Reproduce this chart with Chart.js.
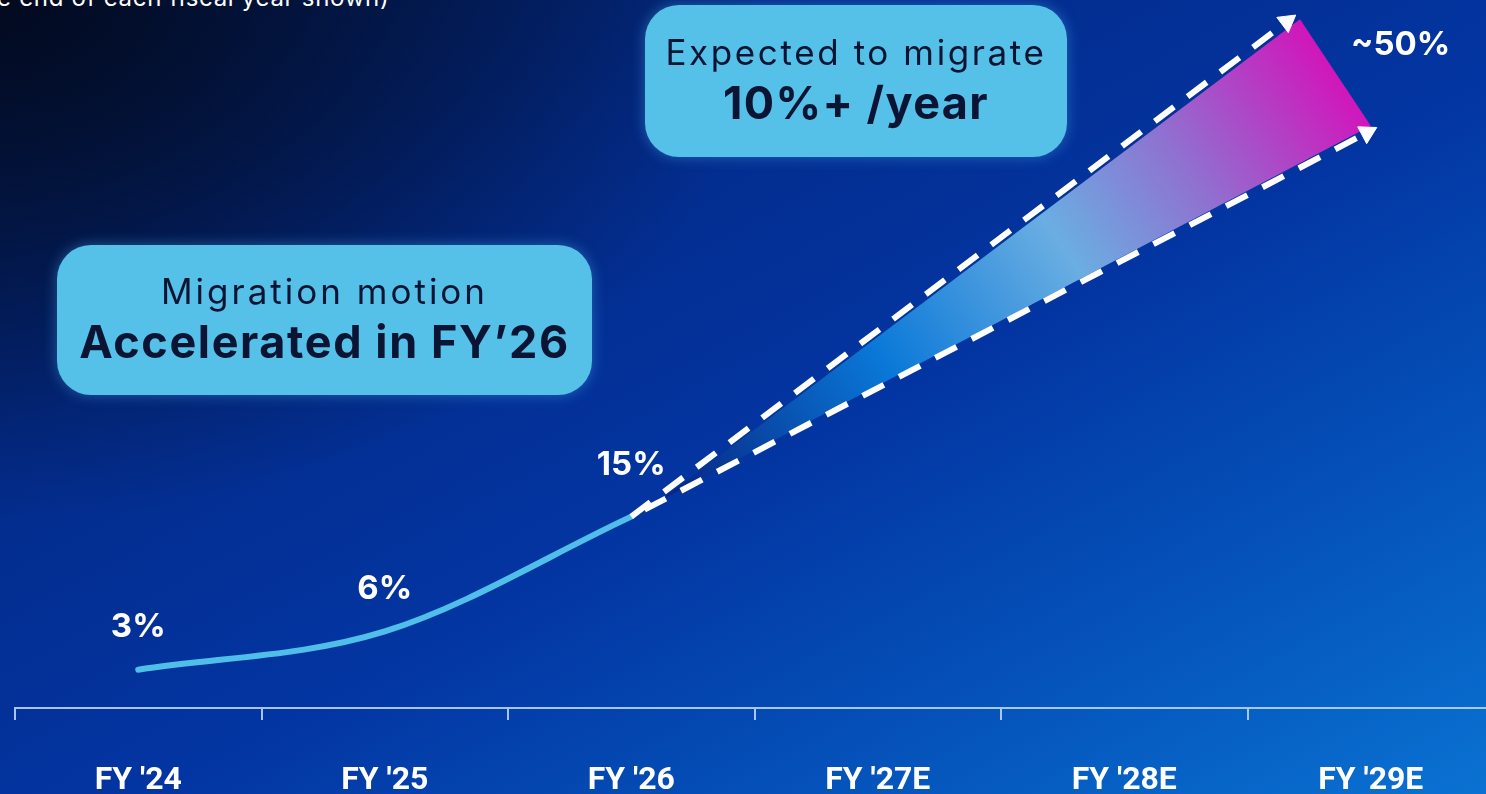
<!DOCTYPE html>
<html>
<head>
<meta charset="utf-8">
<script src="https://cdn.jsdelivr.net/npm/chart.js@4.4.1/dist/chart.umd.min.js"></script>
<style>
  html, body { margin: 0; padding: 0; width: 1486px; height: 794px; overflow: hidden; }
  body {
    position: relative;
    background:
      radial-gradient(ellipse 760px 520px at 0 0, rgba(2, 9, 28, 0.95) 0%, rgba(2, 10, 32, 0.55) 45%, rgba(2, 12, 40, 0) 100%),
      linear-gradient(to bottom right, #031c55 0%, #032b8a 28%, #0335a2 55%, #0556bd 80%, #0a72d2 100%);
    font-family: "Inter", "Open Sans", sans-serif;
  }
  #wrap { position: absolute; left: 0; top: 0; width: 1500px; height: 794px; }
  .note {
    position: absolute; left: -3px; top: -14px;
    color: #ffffff; font-size: 24px; line-height: 24px; letter-spacing: 0.7px; white-space: nowrap;
  }
  .box {
    position: absolute;
    background: #55c0e8;
    border-radius: 34px;
    box-shadow: 0 0 14px rgba(70, 170, 235, 0.45);
    color: #0b1533;
    text-align: center;
    white-space: nowrap;
  }
  .box div { position: absolute; left: 0; right: 0; }
  #boxA { left: 57px; top: 245px; width: 535px; height: 150px; }
  #boxB { left: 645px; top: 5px; width: 422px; height: 152px; }
</style>
</head>
<body>
<div class="note">e end of each fiscal year shown)</div>
<div id="wrap"><canvas id="chart"></canvas></div>

<div class="box" id="boxA">
  <div style="top:24px;font-size:35px;line-height:44px;font-weight:400;letter-spacing:3px;">Migration motion</div>
  <div style="top:71px;font-size:45px;line-height:52px;font-weight:700;letter-spacing:1.6px;">Accelerated in FY’26</div>
</div>
<div class="box" id="boxB">
  <div style="top:25px;font-size:35px;line-height:44px;font-weight:400;letter-spacing:2.6px;">Expected to migrate</div>
  <div style="top:71px;font-size:45px;line-height:54px;font-weight:700;letter-spacing:1.4px;">10%+ /year</div>
</div>

<script>
// Fiscal years on the axis
const categories = ["FY '24", "FY '25", "FY '26", "FY '27E", "FY '28E", "FY '29E"];

// Reported share migrated (category index, percent)
const actualIndex = [0, 1, 2];
const actualShare = [3, 6, 15];

// Projection: both arrows leave the FY '26 value
const projectionFromIndex = 2;
const projectionFromShare = 15;
const upperArrowIndex = 4.66;
const upperArrowShare = 53.8;
const lowerArrowIndex = 4.985;
const lowerArrowShare = 45.1;

// Shaded projection range (a closed triangle)
const rangeIndex = [2.12, 4.713, 5.0];
const rangeShare = [16.3, 54.0, 45.65];

// Target at the end of the range
const targetIndex = 5;
const targetShare = 50;
const targetLabel = '~50%';

const actualPoints = actualIndex.map((x, i) => ({ x, y: actualShare[i] }));
const rangePoints = rangeIndex.map((x, i) => ({ x, y: rangeShare[i] }));
rangePoints.push({ x: rangeIndex[0], y: rangeShare[0] });
const upperPoints = [
  { x: projectionFromIndex, y: projectionFromShare },
  { x: upperArrowIndex, y: upperArrowShare }
];
const lowerPoints = [
  { x: projectionFromIndex, y: projectionFromShare },
  { x: lowerArrowIndex, y: lowerArrowShare }
];

function rangeGradient(context) {
  const chart = context.chart;
  if (!chart.chartArea) return 'rgba(0,0,0,0)';
  const xs = chart.scales.x, ys = chart.scales.y;
  const g = chart.ctx.createLinearGradient(
    xs.getPixelForValue(2.12), ys.getPixelForValue(16.3),
    xs.getPixelForValue(4.835), ys.getPixelForValue(53.2)
  );
  g.addColorStop(0, '#07217e');
  g.addColorStop(0.32, '#0a78d8');
  g.addColorStop(0.58, '#6aaee2');
  g.addColorStop(0.76, '#9070d0');
  g.addColorStop(1, '#d80cb8');
  return g;
}

const valueLabels = {
  id: 'valueLabels',
  afterDatasetsDraw(chart) {
    const c = chart.ctx;
    const meta = chart.getDatasetMeta(3);
    const lift = [43, 42, 52];
    c.save();
    c.fillStyle = '#ffffff';
    c.font = '700 33px Inter, "Open Sans", sans-serif';
    c.textAlign = 'center';
    c.textBaseline = 'middle';
    meta.data.forEach((pt, i) => {
      c.fillText(actualShare[i] + '%', pt.x, pt.y - lift[i]);
    });
    const tx = chart.scales.x.getPixelForValue(targetIndex);
    const ty = chart.scales.y.getPixelForValue(targetShare);
    c.fillText(targetLabel, tx + 30, ty - 25);
    c.restore();
  }
};

const dashStyle = {
  borderColor: '#ffffff',
  borderWidth: 6,
  borderDash: [24, 17],
  borderCapStyle: 'butt',
  pointStyle: 'triangle',
  pointRadius: [0, 11],
  pointHoverRadius: [0, 11],
  pointBackgroundColor: '#ffffff',
  pointBorderColor: '#ffffff',
  pointBorderWidth: 1,
  fill: false,
  tension: 0,
  clip: false
};

new Chart(document.getElementById('chart'), {
  type: 'line',
  data: {
    labels: categories,
    datasets: [
      Object.assign({}, dashStyle, {
        label: 'High',
        data: upperPoints,
        pointRotation: [0, 53],
        order: 1
      }),
      Object.assign({}, dashStyle, {
        label: 'Low',
        data: lowerPoints,
        pointRotation: [0, 62],
        borderDashOffset: 26,
        order: 2
      }),
      {
        label: 'Range',
        data: rangePoints,
        borderWidth: 0,
        borderColor: 'rgba(0,0,0,0)',
        backgroundColor: rangeGradient,
        fill: 'shape',
        pointRadius: 0,
        tension: 0,
        order: 5,
        clip: false
      },
      {
        label: 'Migrated',
        data: actualPoints,
        borderColor: '#4fbfe9',
        borderWidth: 6,
        borderCapStyle: 'round',
        cubicInterpolationMode: 'monotone',
        pointRadius: 0,
        fill: false,
        order: 3,
        clip: false
      }
    ]
  },
  options: {
    responsive: true,
    maintainAspectRatio: false,
    animation: false,
    events: [],
    layout: { autoPadding: false, padding: { left: 15, right: 6, top: 0, bottom: 0 } },
    plugins: { legend: { display: false }, tooltip: { enabled: false } },
    scales: {
      x: { type: 'linear', display: false, min: -0.5, max: 5.5 },
      xc: {
        type: 'category',
        position: 'bottom',
        labels: categories,
        offset: true,
        afterFit(scale) { scale.height = 86; },
        border: { display: true, color: 'rgba(185, 212, 250, 0.9)', width: 2 },
        grid: {
          display: true,
          offset: true,
          drawOnChartArea: false,
          drawTicks: true,
          tickLength: 12,
          color: 'rgba(185, 212, 250, 0.9)',
          lineWidth: 2
        },
        ticks: {
          color: '#ffffff',
          padding: 42,
          maxRotation: 0,
          autoSkip: false,
          font: { family: 'Roboto', weight: 'bold', size: 32 }
        }
      },
      y: { type: 'linear', display: false, min: 0, max: 55.5 }
    }
  },
  plugins: [valueLabels]
});
</script>
</body>
</html>
